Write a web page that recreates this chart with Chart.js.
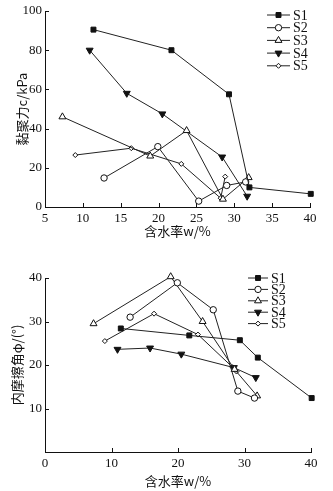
<!DOCTYPE html>
<html>
<head>
<meta charset="utf-8">
<script src="https://cdn.jsdelivr.net/npm/chart.js@4/dist/chart.umd.min.js"></script>
<style>
  body { margin: 0; background: #fff; }
  #wrap { position: relative; width: 333px; height: 491px; }
  canvas { position: absolute; left: 0; }
  #top { top: 0; }
  #bottom { top: 240px; }
</style>
</head>
<body>
<div id="wrap">
  <canvas id="top" width="333" height="240"></canvas>
  <canvas id="bottom" width="333" height="251"></canvas>
</div>
<script>
/* DADOS */
const seriesNames = ['S1', 'S2', 'S3', 'S4', 'S5'];

// water content w/%
const w1 = [11.4, 21.7, 29.3, 32.0, 40.1];
const w2 = [12.8, 19.9, 25.3, 29.0, 31.5];
const w3 = [7.3, 18.9, 23.7, 28.5, 31.9];
const w4 = [10.9, 15.8, 20.5, 28.4, 31.7];
const w5 = [9.0, 16.4, 23.0, 28.2, 28.8];

// cohesion c/kPa
const c1 = [90.5, 80, 57.5, 10, 6.7];
const c2 = [14.8, 30.8, 3, 11, 12.8];
const c3 = [46, 26, 39, 4, 15];
const c4 = [80, 58, 47.5, 25.5, 5.5];
const c5 = [26.5, 30, 22, 4.5, 15.5];

// friction angle phi/(°)
const phi1 = [28.4, 26.8, 25.7, 21.7, 12.4];
const phi2 = [31.0, 38.9, 32.7, 14.0, 12.4];
const phi3 = [29.5, 40.3, 30.0, 19.0, 12.9];
const phi4 = [23.6, 23.9, 22.5, 19.4, 17.1];
const phi5 = [25.5, 31.8, 27.0, 19.5, 18.5];

const cohesionTicks = [0, 20, 40, 60, 80, 100];
const phiTicks = [10, 20, 30, 40];

/* ESTILOS */
const markers = [
  { pointStyle: 'rect', radius: 3.5, fill: '#111', rotation: 0 },
  { pointStyle: 'circle', radius: 3.2, fill: '#fff', rotation: 0 },
  { pointStyle: 'triangle', radius: 4, fill: '#fff', rotation: 0 },
  { pointStyle: 'triangle', radius: 4, fill: '#111', rotation: 180 },
  { pointStyle: 'rectRot', radius: 2.5, fill: '#fff', rotation: 0 }
];

function makeDatasets(ws, vs) {
  return seriesNames.map((name, i) => ({
    label: name,
    data: ws[i].map((x, k) => ({ x: x, y: vs[i][k] })),
    borderColor: '#222',
    borderWidth: 1,
    pointStyle: markers[i].pointStyle,
    pointRadius: markers[i].radius,
    pointRotation: markers[i].rotation,
    pointBackgroundColor: markers[i].fill,
    pointBorderColor: '#111',
    pointBorderWidth: 1,
    tension: 0,
    fill: false,
    clip: false
  }));
}

/* PLUGINS */
const inwardTicks = {
  id: 'inwardTicks',
  afterDraw(chart) {
    const { ctx, chartArea, scales } = chart;
    ctx.save();
    ctx.strokeStyle = '#111';
    ctx.lineWidth = 1;
    scales.x.ticks.forEach((t, i) => {
      const px = Math.round(scales.x.getPixelForTick(i)) + 0.5;
      ctx.beginPath();
      ctx.moveTo(px, chartArea.bottom);
      ctx.lineTo(px, chartArea.bottom - 4);
      ctx.stroke();
    });
    scales.y.ticks.forEach((t, i) => {
      const py = Math.round(scales.y.getPixelForTick(i)) + 0.5;
      ctx.beginPath();
      ctx.moveTo(chartArea.left, py);
      ctx.lineTo(chartArea.left + 4, py);
      ctx.stroke();
    });
    ctx.restore();
  }
};

const lineLegend = {
  id: 'lineLegend',
  afterDraw(chart, args, opts) {
    const ctx = chart.ctx;
    ctx.save();
    ctx.font = opts.fontSize + 'px "Liberation Serif"';
    ctx.textBaseline = 'middle';
    chart.data.datasets.forEach((ds, i) => {
      const y = opts.y + i * opts.step;
      ctx.strokeStyle = '#222';
      ctx.lineWidth = 1;
      ctx.beginPath();
      ctx.moveTo(opts.x, y);
      ctx.lineTo(opts.x + opts.len, y);
      ctx.stroke();
      ctx.fillStyle = ds.pointBackgroundColor;
      ctx.strokeStyle = ds.pointBorderColor;
      Chart.helpers.drawPoint(ctx, {
        pointStyle: ds.pointStyle,
        radius: ds.pointRadius,
        rotation: ds.pointRotation,
        borderWidth: 1
      }, opts.x + opts.len / 2, y);
      ctx.fillStyle = '#111';
      ctx.fillText(ds.label, opts.x + opts.len + 3, y + 1);
    });
    ctx.restore();
  }
};

/* GRÁFICOS */
const tickFont = { family: '"Liberation Serif", serif', size: 13 };
const titleFont = { family: '"Noto Sans CJK SC", sans-serif', size: 13 };

function makeChart(canvas, datasets, cfg) {
  return new Chart(canvas.getContext('2d'), {
    type: 'line',
    data: { datasets: datasets },
    plugins: [inwardTicks, lineLegend],
    options: {
      responsive: false,
      animation: false,
      layout: { padding: cfg.padding },
      plugins: {
        legend: { display: false },
        tooltip: { enabled: false },
        lineLegend: cfg.legend
      },
      scales: {
        x: {
          type: 'linear',
          min: cfg.xMin,
          max: cfg.xMax,
          afterFit: s => { s.height = cfg.xHeight; },
          afterBuildTicks: s => { s.ticks = cfg.xTicks.map(v => ({ value: v })); },
          grid: { display: true, drawOnChartArea: false, drawTicks: false },
          border: { display: true, color: '#111', width: 1 },
          ticks: { color: '#111', font: tickFont, padding: 4 },
          title: { display: true, text: '含水率w/%', color: '#111', font: titleFont, padding: { top: 2, bottom: cfg.xTitlePad } }
        },
        y: {
          min: cfg.yMin,
          max: cfg.yMax,
          afterFit: s => { s.width = 45; },
          afterBuildTicks: s => { s.ticks = cfg.yTicks.map(v => ({ value: v })); },
          grid: { display: true, drawOnChartArea: false, drawTicks: false },
          border: { display: true, color: '#111', width: 1 },
          ticks: { color: '#111', font: tickFont, padding: 3 },
          title: { display: true, text: cfg.yTitle, color: '#111', font: titleFont, padding: { top: cfg.yTitlePad, bottom: 0 } }
        }
      }
    }
  });
}

const topChart = makeChart(document.getElementById('top'),
  makeDatasets([w1, w2, w3, w4, w5], [c1, c2, c3, c4, c5]), {
    padding: { top: 11, right: 23, left: 0, bottom: 0 },
    xMin: 5, xMax: 40, xTicks: [5, 10, 15, 20, 25, 30, 35, 40], xHeight: 33,
    yMin: 0, yMax: 100, yTicks: cohesionTicks,
    yTitle: '黏聚力c/kPa', yTitlePad: 14, xTitlePad: 1,
    legend: { x: 267, y: 15, step: 12.7, len: 23, fontSize: 14 }
  });

const bottomChart = makeChart(document.getElementById('bottom'),
  makeDatasets([w1, w2, w3, w4, w5], [phi1, phi2, phi3, phi4, phi5]), {
    padding: { top: 38, right: 22, left: 0, bottom: 0 },
    xMin: 0, xMax: 40, xTicks: [0, 10, 20, 30, 40], xHeight: 39,
    yMin: 0, yMax: 40, yTicks: phiTicks,
    yTitle: '内摩擦角φ/(°)', yTitlePad: 9, xTitlePad: 2,
    legend: { x: 248, y: 38, step: 11.4, len: 20, fontSize: 14 }
  });
</script>
</body>
</html>
